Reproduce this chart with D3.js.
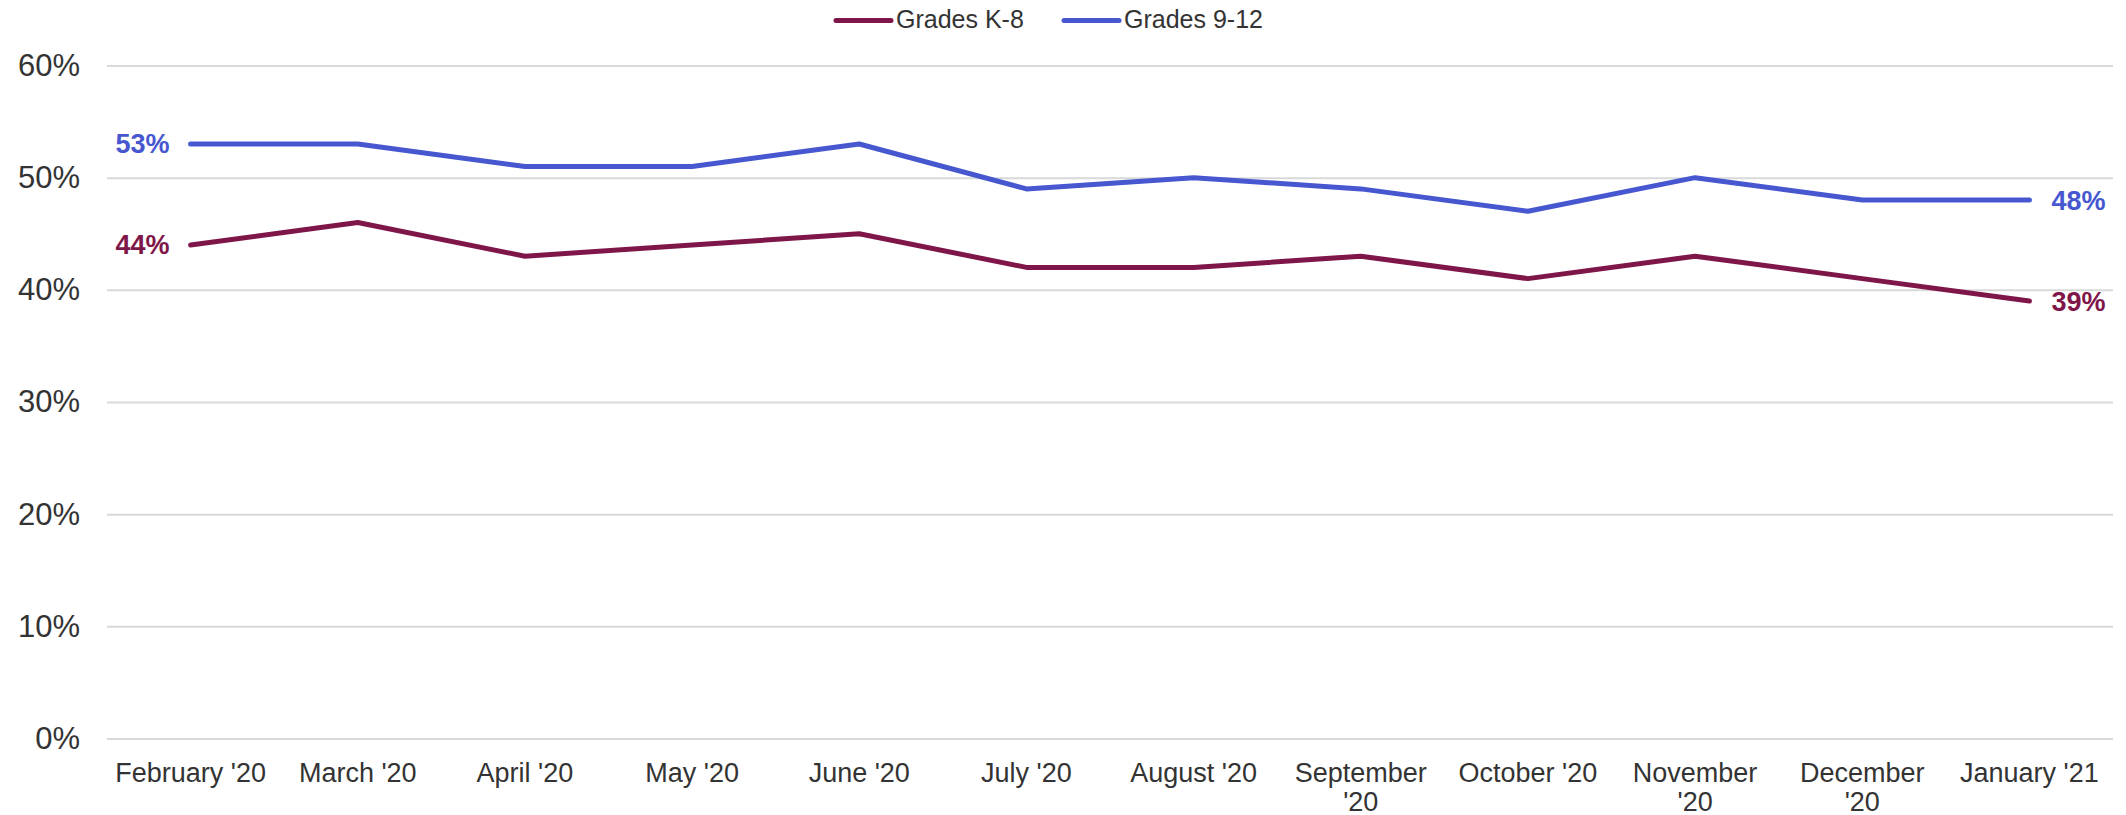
<!DOCTYPE html>
<html>
<head>
<meta charset="utf-8">
<script src="https://cdn.jsdelivr.net/npm/d3@7/dist/d3.min.js"></script>
<style>
  html, body { margin: 0; padding: 0; background: #ffffff; }
  svg { display: block; font-family: "Liberation Sans", Arial, sans-serif; }
</style>
</head>
<body>
<svg id="chart" width="2126" height="815"></svg>
<script>
// Month categories along the x axis
const months = ["February '20", "March '20", "April '20", "May '20", "June '20", "July '20",
                "August '20", "September '20", "October '20", "November '20", "December '20", "January '21"];

// Share of students (%) for each grade band
const gradesK8   = [44, 46, 43, 44, 45, 42, 42, 43, 41, 43, 41, 39];
const grades912  = [53, 53, 51, 51, 53, 49, 50, 49, 47, 50, 48, 48];

// Y axis tick values (%)
const yTicks = [0, 10, 20, 30, 40, 50, 60];

const seriesNames  = ["Grades K-8", "Grades 9-12"];
const seriesColors = ["#7f1649", "#4657cf"];

const series = [
  { name: seriesNames[0], color: seriesColors[0], values: gradesK8 },
  { name: seriesNames[1], color: seriesColors[1], values: grades912 }
];

const svg = d3.select("#chart");
const textColor = "#333333";

const plot = { left: 107, right: 2113, top: 65.5, bottom: 738.5 };

const x = d3.scaleBand().domain(months).range([plot.left, plot.right]).padding(0);
const xc = m => x(m) + x.bandwidth() / 2;
const y = d3.scaleLinear().domain([0, 60]).range([plot.bottom, plot.top]);

// Horizontal gridlines + y tick labels
const yAxis = d3.axisLeft(y)
  .tickValues(yTicks)
  .tickSize(-(plot.right - plot.left))
  .tickPadding(27)
  .tickFormat(d => d + "%");

const gy = svg.append("g")
  .attr("transform", `translate(${plot.left},0)`)
  .call(yAxis);
gy.select(".domain").remove();
gy.selectAll(".tick line").attr("stroke", "#d9d9d9").attr("stroke-width", 2);
gy.selectAll(".tick text")
  .attr("fill", textColor)
  .attr("font-size", 31)
  .attr("font-family", "'Liberation Sans', Arial, sans-serif");

// X axis labels, wrapped to the band width
const xAxis = d3.axisBottom(x).tickSize(0).tickPadding(0);
const gx = svg.append("g")
  .attr("transform", `translate(0,${plot.bottom})`)
  .call(xAxis);
gx.select(".domain").remove();
gx.selectAll(".tick text")
  .attr("fill", textColor)
  .attr("font-size", 27)
  .attr("font-family", "'Liberation Sans', Arial, sans-serif")
  .attr("y", 0)
  .attr("dy", null)
  .each(function(d) {
    const t = d3.select(this);
    const words = d.split(" ");
    const maxW = 160;
    t.text(null);
    let line = [];
    let tspan = t.append("tspan").attr("x", 0);
    words.forEach(w => {
      line.push(w);
      tspan.text(line.join(" "));
      if (tspan.node().getComputedTextLength() > maxW && line.length > 1) {
        line.pop();
        tspan.text(line.join(" "));
        line = [w];
        tspan = t.append("tspan").attr("x", 0).text(w);
      }
    });
    t.selectAll("tspan").attr("y", (dd, i) => 43 + i * 29);
  });

// Series lines
const line = d3.line()
  .x((d, i) => xc(months[i]))
  .y(d => y(d));

series.forEach(s => {
  svg.append("path")
    .datum(s.values)
    .attr("fill", "none")
    .attr("stroke", s.color)
    .attr("stroke-width", 5)
    .attr("stroke-linecap", "round")
    .attr("stroke-linejoin", "round")
    .attr("d", line);

  // First and last value labels
  const first = s.values[0];
  const last = s.values[s.values.length - 1];
  svg.append("text")
    .attr("x", xc(months[0]) - 21)
    .attr("y", y(first))
    .attr("dy", "0.35em")
    .attr("text-anchor", "end")
    .attr("font-size", 27)
    .attr("font-weight", "bold")
    .attr("fill", s.color)
    .text(first + "%");
  svg.append("text")
    .attr("x", xc(months[months.length - 1]) + 22)
    .attr("y", y(last))
    .attr("dy", "0.35em")
    .attr("text-anchor", "start")
    .attr("font-size", 27)
    .attr("font-weight", "bold")
    .attr("fill", s.color)
    .text(last + "%");
});

// Legend
const legendItems = [
  { name: seriesNames[0], color: seriesColors[0], x: 836 },
  { name: seriesNames[1], color: seriesColors[1], x: 1064 }
];
const lg = svg.append("g");
legendItems.forEach(it => {
  lg.append("line")
    .attr("x1", it.x).attr("x2", it.x + 55)
    .attr("y1", 20.5).attr("y2", 20.5)
    .attr("stroke", it.color)
    .attr("stroke-width", 5)
    .attr("stroke-linecap", "round");
  lg.append("text")
    .attr("x", it.x + 60)
    .attr("y", 28)
    .attr("font-size", 25)
    .attr("fill", textColor)
    .text(it.name);
});
</script>
</body>
</html>
